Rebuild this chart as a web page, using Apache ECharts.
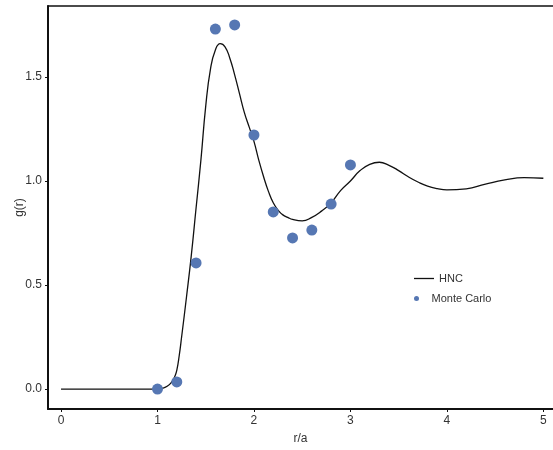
<!DOCTYPE html>
<html><head><meta charset="utf-8">
<script src="https://cdn.jsdelivr.net/npm/echarts@6/dist/echarts.min.js"></script>
<style>html,body{margin:0;padding:0;background:#fff}#c{width:553px;height:450px}</style>
</head><body><div id="c"></div>
<script>
var hncR = [0, 0.95, 1.0, 1.05, 1.1, 1.15, 1.175, 1.2, 1.225, 1.25, 1.3, 1.35, 1.4, 1.45, 1.5, 1.55, 1.6, 1.65, 1.7, 1.75, 1.8, 1.85, 1.9, 1.95, 2.0, 2.05, 2.1, 2.15, 2.2, 2.25, 2.3, 2.35, 2.4, 2.5, 2.6, 2.7, 2.8, 2.9, 3.0, 3.1, 3.2, 3.3, 3.4, 3.5, 3.6, 3.7, 3.8, 3.9, 4.0, 4.2, 4.4, 4.6, 4.8, 5.0];
var hncG = [0, 0, 0.0, 0.004, 0.013, 0.035, 0.055, 0.09, 0.16, 0.25, 0.44, 0.64, 0.87, 1.10, 1.36, 1.54, 1.63, 1.66, 1.645, 1.59, 1.51, 1.42, 1.33, 1.26, 1.19, 1.10, 1.02, 0.95, 0.895, 0.86, 0.837, 0.825, 0.815, 0.808, 0.825, 0.855, 0.895, 0.955, 1.0, 1.05, 1.08, 1.09, 1.075, 1.05, 1.02, 0.995, 0.975, 0.963, 0.957, 0.962, 0.985, 1.005, 1.016, 1.013];
var mcR = [1.0, 1.2, 1.4, 1.6, 1.8, 2.0, 2.2, 2.4, 2.6, 2.8, 3.0];
var mcG = [0.0, 0.034, 0.606, 1.73, 1.75, 1.221, 0.851, 0.726, 0.764, 0.889, 1.077];
var xTicks = [0, 1, 2, 3, 4, 5];
var yTicks = [0, 0.5, 1.0, 1.5];

var chart = echarts.init(document.getElementById('c'));
var txt = '#333';
var ff = 'Liberation Sans, Arial, sans-serif';
chart.setOption({
  animation: false,
  backgroundColor: '#fff',
  grid: {left: 48, top: 6, right: 0, bottom: 41, containLabel: false, outerBoundsMode: 'none'},
  legend: [{
    orient: 'vertical', left: 409, top: 268,
    icon: 'rect', itemWidth: 20, itemHeight: 1.3,
    textStyle: {color: txt, fontSize: 11, fontFamily: ff},
    data: ['HNC']
  }, {
    orient: 'vertical', left: 409, top: 288,
    icon: 'circle', itemWidth: 20, itemHeight: 5,
    textStyle: {color: txt, fontSize: 11, fontFamily: ff},
    data: ['Monte Carlo']
  }],
  xAxis: [{
    type: 'value', min: -0.135, max: 5.1,
    name: 'r/a', nameLocation: 'middle', nameGap: 24,
    nameTextStyle: {color: txt, fontSize: 12, fontFamily: ff},
    axisLine: {show: true, onZero: false, lineStyle: {color: '#111', width: 2}},
    axisTick: {show: true, length: 3, customValues: xTicks, lineStyle: {color: '#111'}},
    axisLabel: {color: txt, fontSize: 12, margin: 6, customValues: xTicks, formatter: function(v){return String(v);}, fontFamily: ff},
    splitLine: {show: false}
  }, {
    type: 'value', position: 'top', min: -0.135, max: 5.1,
    axisLine: {show: true, onZero: false, lineStyle: {color: '#111', width: 1.5}},
    axisTick: {show: false}, axisLabel: {show: false}, splitLine: {show: false}
  }],
  yAxis: {
    type: 'value', min: -0.096, max: 1.841,
    name: 'g(r)', nameLocation: 'middle', nameGap: 22, nameRotate: 90, nameMoveOverlap: false,
    nameTextStyle: {color: txt, fontSize: 12, fontFamily: ff},
    axisLine: {show: true, onZero: false, lineStyle: {color: '#111', width: 2}},
    axisTick: {show: true, length: 3, customValues: yTicks, lineStyle: {color: '#111'}},
    axisLabel: {color: txt, fontSize: 12, margin: 6, customValues: yTicks, formatter: function(v){return v.toFixed(1);}, fontFamily: ff},
    splitLine: {show: false}
  },
  series: [{
    name: 'HNC', type: 'line', smooth: 0.5, showSymbol: false, symbol: 'none',
    lineStyle: {color: '#111', width: 1.3},
    itemStyle: {color: '#111'},
    data: hncR.map(function(r, i){return [r, hncG[i]];}),
    z: 2
  }, {
    name: 'Monte Carlo', type: 'scatter', symbolSize: 11,
    itemStyle: {color: '#5677b3', opacity: 1},
    data: mcR.map(function(r, i){return [r, mcG[i]];}),
    z: 3
  }]
});
</script></body></html>
